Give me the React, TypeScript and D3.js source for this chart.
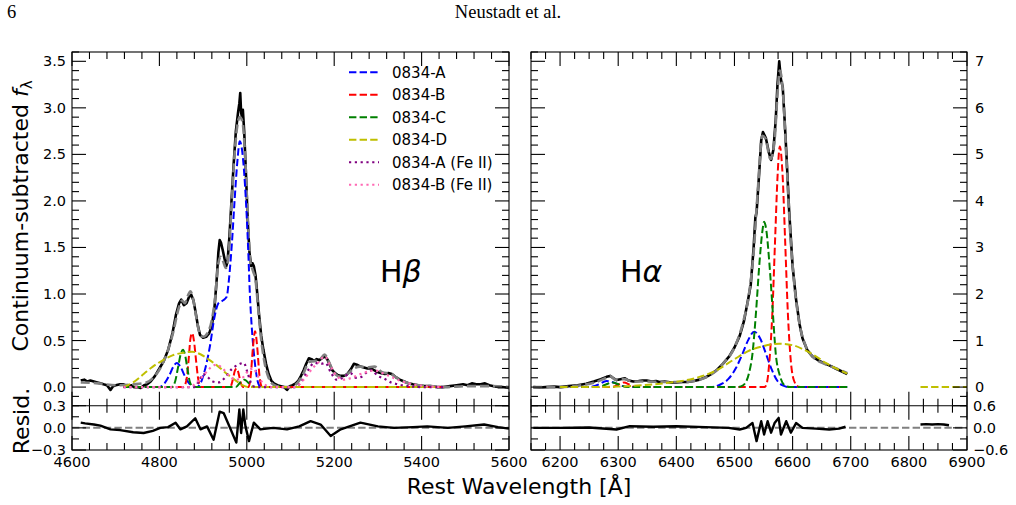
import React, { useEffect, useRef } from "react";
import * as d3 from "d3";

type Pt = [number, number];

// ---- H-beta panel (rest wavelength, continuum-subtracted flux) ----
const hbSpec: Pt[] = [
  [4620, 0.07], [4628, 0.08], [4635, 0.06], [4642, 0.07], [4650, 0.06], [4658, 0.05], [4665, 0.04],
  [4672, 0.03], [4680, 0.02], [4688, -0.03], [4694, 0.01], [4700, 0.02], [4710, 0.03], [4718, 0.03],
  [4726, 0.01], [4735, 0.02], [4742, 0.0], [4750, 0.0], [4757, -0.01], [4765, 0.02], [4772, 0.03],
  [4780, 0.06], [4790, 0.12], [4800, 0.2], [4810, 0.28], [4820, 0.4], [4830, 0.58], [4838, 0.78],
  [4845, 0.9], [4850, 0.94], [4856, 0.88], [4862, 0.9], [4868, 0.97], [4873, 0.99], [4878, 0.93],
  [4883, 0.8], [4888, 0.66], [4893, 0.56], [4900, 0.53], [4907, 0.54], [4914, 0.58], [4920, 0.66],
  [4926, 0.85], [4931, 1.15], [4935, 1.45], [4938, 1.58], [4941, 1.55], [4945, 1.47], [4949, 1.38],
  [4953, 1.3], [4956, 1.35], [4960, 1.6], [4965, 2.0], [4970, 2.4], [4975, 2.75], [4980, 2.95],
  [4983, 3.05], [4985, 3.16], [4987, 2.95], [4989, 2.9], [4991, 2.98], [4994, 2.75], [4998, 2.3],
  [5002, 1.8], [5006, 1.45], [5010, 1.3], [5013, 1.33], [5016, 1.3], [5020, 1.2], [5024, 1.0],
  [5028, 0.78], [5033, 0.55], [5038, 0.4], [5044, 0.25], [5050, 0.14], [5056, 0.07], [5062, 0.04],
  [5070, 0.02], [5078, 0.01], [5085, 0.0], [5092, -0.03], [5098, 0.01], [5105, 0.02], [5112, 0.04],
  [5118, 0.07], [5124, 0.12], [5130, 0.18], [5136, 0.25], [5142, 0.31], [5148, 0.3], [5154, 0.28],
  [5160, 0.3], [5166, 0.29], [5172, 0.31], [5178, 0.33], [5184, 0.3], [5190, 0.24], [5196, 0.18],
  [5202, 0.15], [5208, 0.13], [5215, 0.12], [5222, 0.12], [5230, 0.14], [5238, 0.19], [5245, 0.25],
  [5252, 0.24], [5260, 0.22], [5268, 0.21], [5276, 0.2], [5284, 0.2], [5292, 0.18], [5300, 0.16],
  [5308, 0.15], [5316, 0.14], [5324, 0.15], [5332, 0.14], [5340, 0.11], [5350, 0.08], [5360, 0.06],
  [5370, 0.04], [5380, 0.03], [5392, 0.02], [5405, 0.01], [5420, 0.01], [5435, 0.0], [5450, 0.0],
  [5465, 0.01], [5480, 0.02], [5495, 0.03], [5505, 0.02], [5515, 0.04], [5525, 0.03], [5535, 0.03],
  [5545, 0.04], [5555, 0.02], [5565, 0.01], [5575, 0.0], [5585, 0.0], [5600, -0.01],
];
const hbModel: Pt[] = [
  [4620, 0.05], [4660, 0.04], [4700, 0.02], [4740, 0.03], [4770, 0.05], [4790, 0.12], [4810, 0.28],
  [4830, 0.56], [4845, 0.86], [4852, 0.93], [4858, 0.9], [4865, 0.98], [4871, 1.03], [4877, 0.95],
  [4884, 0.76], [4892, 0.58], [4900, 0.54], [4910, 0.58], [4920, 0.72], [4928, 0.98], [4934, 1.3],
  [4940, 1.4], [4946, 1.35], [4952, 1.28], [4958, 1.4], [4965, 1.95], [4972, 2.5], [4978, 2.8],
  [4984, 2.9], [4990, 2.85], [4996, 2.5], [5002, 1.85], [5008, 1.35], [5014, 1.25], [5020, 1.15],
  [5026, 0.85], [5032, 0.55], [5040, 0.28], [5050, 0.1], [5060, 0.03], [5080, 0.0], [5100, 0.0],
  [5115, 0.04], [5130, 0.15], [5142, 0.27], [5155, 0.28], [5168, 0.3], [5178, 0.35], [5188, 0.27],
  [5200, 0.15], [5215, 0.11], [5230, 0.14], [5245, 0.2], [5260, 0.22], [5275, 0.21], [5292, 0.22],
  [5310, 0.16], [5330, 0.14], [5350, 0.08], [5380, 0.03], [5420, 0.01], [5460, 0.0], [5500, 0.01],
  [5560, 0.01], [5600, 0.0],
];
const hbA: Pt[] = [
  [4718, 0], [4800, 0], [4810, 0.03], [4822, 0.12], [4832, 0.22], [4840, 0.26], [4848, 0.22],
  [4858, 0.12], [4868, 0.04], [4878, 0.01], [4886, 0], [4895, 0.05], [4905, 0.2], [4916, 0.45],
  [4926, 0.75], [4935, 0.9], [4945, 0.93], [4954, 0.97], [4959, 1.15], [4966, 1.55], [4972, 2.0],
  [4978, 2.4], [4984, 2.64], [4989, 2.55], [4994, 2.3], [4998, 2.0], [5003, 1.5], [5007, 1.0],
  [5012, 0.6], [5018, 0.28], [5024, 0.08], [5030, 0.01], [5036, 0], [5450, 0],
];
const hbB: Pt[] = [
  [4718, 0], [4855, 0], [4862, 0.08], [4867, 0.3], [4871, 0.52], [4875, 0.58], [4879, 0.5],
  [4884, 0.28], [4889, 0.08], [4895, 0], [4962, 0], [4968, 0.08], [4973, 0.18], [4977, 0.2],
  [4981, 0.15], [4986, 0.05], [4992, 0], [5004, 0], [5009, 0.12], [5014, 0.42], [5019, 0.6],
  [5024, 0.42], [5029, 0.12], [5034, 0.01], [5040, 0], [5450, 0],
];
const hbC: Pt[] = [
  [4718, 0], [4828, 0], [4836, 0.06], [4843, 0.22], [4849, 0.36], [4854, 0.4], [4859, 0.34],
  [4864, 0.2], [4870, 0.05], [4878, 0], [4975, 0], [4985, 0.05], [4995, 0.08], [5005, 0.04],
  [5015, 0], [5450, 0],
];
const hbD: Pt[] = [
  [4718, 0], [4740, 0.05], [4764, 0.14], [4785, 0.22], [4805, 0.28], [4830, 0.34], [4855, 0.37],
  [4875, 0.38], [4895, 0.35], [4915, 0.29], [4935, 0.22], [4955, 0.14], [4975, 0.07], [4990, 0.02],
  [5005, 0], [5450, 0],
];
const hbFeA: Pt[] = [
  [4718, 0], [4880, 0], [4890, 0.06], [4900, 0.14], [4910, 0.11], [4922, 0.06], [4935, 0.05],
  [4950, 0.1], [4965, 0.19], [4980, 0.24], [4993, 0.26], [5002, 0.15], [5010, 0.04], [5020, 0],
  [5110, 0], [5125, 0.06], [5140, 0.18], [5155, 0.26], [5170, 0.25], [5180, 0.26], [5192, 0.16],
  [5205, 0.08], [5220, 0.1], [5237, 0.15], [5250, 0.1], [5262, 0.11], [5275, 0.16], [5285, 0.18],
  [5300, 0.12], [5315, 0.09], [5330, 0.05], [5345, 0.03], [5370, 0.01], [5400, 0], [5450, 0],
];
const hbFeB: Pt[] = [
  [4718, 0], [4870, 0], [4885, 0.05], [4900, 0.12], [4915, 0.2], [4930, 0.24], [4945, 0.2],
  [4960, 0.12], [4975, 0.08], [4990, 0.1], [5005, 0.18], [5015, 0.2], [5025, 0.12], [5040, 0.03],
  [5060, 0], [5110, 0], [5130, 0.08], [5150, 0.2], [5165, 0.27], [5178, 0.33], [5190, 0.24],
  [5205, 0.12], [5222, 0.08], [5240, 0.1], [5260, 0.14], [5280, 0.17], [5292, 0.18], [5310, 0.15],
  [5330, 0.11], [5350, 0.07], [5370, 0.04], [5400, 0.015], [5450, 0],
];
const hbResid: Pt[] = [
  [4620, 0.07], [4630, 0.06], [4650, 0.045], [4665, 0.03], [4688, -0.02], [4710, -0.03],
  [4740, -0.06], [4764, -0.07], [4785, -0.04], [4802, 0], [4820, 0.01], [4837, 0.07], [4848, -0.02],
  [4863, 0.02], [4882, 0.13], [4894, -0.02], [4909, 0.02], [4924, -0.16], [4938, 0.22], [4947, 0.2],
  [4963, -0.02], [4976, -0.2], [4983, 0.25], [4987, -0.07], [4992, 0.25], [4997, 0.02], [5005, -0.18],
  [5016, 0.07], [5031, -0.02], [5060, 0.0], [5092, -0.02], [5120, 0.02], [5146, 0.09], [5169, 0.045],
  [5192, -0.11], [5215, -0.02], [5240, 0.03], [5260, 0.07], [5300, 0.02], [5337, 0], [5380, 0.01],
  [5413, 0.02], [5460, 0.0], [5500, 0.02], [5543, 0.045], [5575, 0.01], [5600, -0.01],
];
const hbResidZero: Pt[] = [[4600, 0], [5600, 0]];

// ---- H-alpha panel ----
const haSpec: Pt[] = [
  [6154, 0.0], [6165, -0.01], [6175, 0.0], [6190, 0.01], [6200, 0.0], [6215, 0.02], [6230, 0.04],
  [6245, 0.07], [6258, 0.12], [6270, 0.17], [6280, 0.22], [6286, 0.24], [6292, 0.19], [6297, 0.15],
  [6304, 0.17], [6311, 0.19], [6318, 0.14], [6326, 0.12], [6335, 0.13], [6342, 0.14], [6349, 0.14],
  [6358, 0.12], [6365, 0.13], [6371, 0.11], [6380, 0.12], [6390, 0.1], [6400, 0.1], [6410, 0.11],
  [6420, 0.11], [6430, 0.13], [6440, 0.16], [6450, 0.21], [6460, 0.28], [6469, 0.36], [6480, 0.5],
  [6491, 0.66], [6500, 0.85], [6509, 1.1], [6516, 1.4], [6523, 1.85], [6528, 2.2], [6533, 3.0],
  [6536, 3.65], [6538, 3.75], [6542, 4.5], [6546, 5.3], [6549, 5.48], [6554, 5.35], [6559, 5.05],
  [6563, 4.88], [6567, 5.1], [6571, 5.75], [6574, 6.5], [6577, 7.0], [6580, 6.6], [6583, 6.45],
  [6586, 5.8], [6589, 5.1], [6594, 3.8], [6600, 2.6], [6606, 1.88], [6612, 1.35], [6617, 1.05],
  [6625, 0.8], [6634, 0.66], [6645, 0.57], [6657, 0.5], [6666, 0.45], [6674, 0.4], [6684, 0.34],
  [6694, 0.28],
];
const haModel: Pt[] = [
  [6154, 0.0], [6200, 0.0], [6230, 0.03], [6260, 0.1], [6280, 0.2], [6287, 0.23], [6295, 0.16],
  [6310, 0.17], [6325, 0.12], [6350, 0.12], [6380, 0.11], [6410, 0.11], [6440, 0.16], [6460, 0.27],
  [6480, 0.5], [6500, 0.85], [6515, 1.4], [6525, 2.0], [6533, 2.9], [6540, 4.2], [6548, 5.4],
  [6553, 5.35], [6562, 4.9], [6569, 5.3], [6574, 6.3], [6578, 6.8], [6583, 6.4], [6589, 5.0],
  [6596, 3.3], [6603, 2.2], [6612, 1.35], [6622, 0.9], [6635, 0.65], [6655, 0.5], [6675, 0.4],
  [6694, 0.3],
];
const haA: Pt[] = [
  [6200, 0], [6250, 0], [6265, 0.05], [6280, 0.13], [6292, 0.1], [6305, 0.03], [6320, 0], [6460, 0],
  [6475, 0.05], [6490, 0.18], [6503, 0.42], [6514, 0.72], [6524, 1.02], [6534, 1.19], [6544, 1.05],
  [6554, 0.72], [6564, 0.38], [6574, 0.13], [6584, 0.03], [6594, 0], [6694, 0],
];
const haB: Pt[] = [
  [6200, 0], [6290, 0], [6300, 0.05], [6310, 0.1], [6320, 0.05], [6330, 0], [6552, 0], [6556, 0.1],
  [6560, 0.54], [6565, 1.55], [6570, 3.2], [6574, 4.5], [6578, 5.17], [6583, 4.5], [6587, 3.2],
  [6592, 1.55], [6597, 0.55], [6603, 0.12], [6610, 0.01], [6617, 0], [6694, 0],
];
const haC: Pt[] = [
  [6200, 0], [6265, 0], [6278, 0.05], [6290, 0.1], [6302, 0.05], [6315, 0], [6505, 0], [6515, 0.04],
  [6525, 0.3], [6531, 0.72], [6537, 1.6], [6543, 2.67], [6548, 3.35], [6551, 3.55], [6555, 3.35],
  [6560, 2.67], [6566, 1.6], [6571, 0.72], [6578, 0.25], [6586, 0.04], [6595, 0], [6694, 0],
];
const haD: Pt[] = [
  [6200, 0], [6250, 0.0], [6300, 0.01], [6343, 0.04], [6390, 0.1], [6429, 0.18], [6469, 0.36],
  [6500, 0.6], [6525, 0.78], [6549, 0.88], [6577, 0.93], [6600, 0.9], [6620, 0.8], [6640, 0.66],
  [6657, 0.52], [6675, 0.4], [6694, 0.29],
];
const haDTail: Pt[] = [[6820, 0], [6900, 0]];
const haResid: Pt[] = [
  [6154, 0], [6200, 0.0], [6250, 0.01], [6297, -0.045], [6320, 0.045], [6360, 0.03], [6400, 0.045],
  [6450, 0.02], [6490, 0.0], [6509, -0.045], [6520, 0.0], [6531, 0.13], [6538, -0.36], [6546, 0.18],
  [6551, -0.18], [6557, 0.18], [6563, -0.13], [6569, 0.13], [6576, 0.27], [6580, -0.18], [6589, 0.18],
  [6597, -0.13], [6606, 0.13], [6617, 0], [6640, -0.02], [6663, -0.045], [6680, -0.02], [6691, 0.03],
];
const haResid2: Pt[] = [[6820, 0.09], [6830, 0.1], [6840, 0.09], [6850, 0.1], [6860, 0.09], [6869, 0.07]];
const haResidZero: Pt[] = [[6150, 0], [6900, 0]];

// ---- legend and ticks ----
const legendLabels = ["0834-A", "0834-B", "0834-C", "0834-D", "0834-A (Fe II)", "0834-B (Fe II)"];
const legendColors = ["#0000ff", "#ff0000", "#008000", "#bfbf00", "#800080", "#ff69b4"];
const legendDotted = [false, false, false, false, true, true];

const hbXTicks = [4600, 4800, 5000, 5200, 5400, 5600];
const haXTicks = [6200, 6300, 6400, 6500, 6600, 6700, 6800, 6900];
const hbYTicks = [0, 0.5, 1, 1.5, 2, 2.5, 3, 3.5];
const haYTicks = [0, 1, 2, 3, 4, 5, 6, 7];
const hbResTicks = [-0.3, 0, 0.3];
const haResTicks = [-0.6, 0, 0.6];

const FONT = "DejaVu Sans, sans-serif";

export default function App() {
  const ref = useRef<SVGSVGElement>(null);

  useEffect(() => {
    const svg = d3.select(ref.current);
    svg.selectAll("*").remove();

    const L = { x0: 72, x1: 509 };
    const R = { x0: 531, x1: 967 };
    const top = 52, mid = 405.7, bot = 450;
    const MAJ = 14, MIN = 7;

    const xHb = d3.scaleLinear().domain([4600, 5600]).range([L.x0, L.x1]);
    const xHa = d3.scaleLinear().domain([6150, 6900]).range([R.x0, R.x1]);
    const yHb = d3.scaleLinear().domain([-0.2, 3.6]).range([mid, top]);
    const yHa = d3.scaleLinear().domain([-0.4, 7.2]).range([mid, top]);
    const rHb = d3.scaleLinear().domain([-0.3, 0.3]).range([bot, mid]);
    const rHa = d3.scaleLinear().domain([-0.6, 0.6]).range([bot, mid]);

    // header
    svg.append("text").attr("x", 7).attr("y", 17.5).attr("font-family", "Liberation Serif, serif")
      .attr("font-size", 18.5).text("6");
    svg.append("text").attr("x", 508).attr("y", 17.5).attr("text-anchor", "middle")
      .attr("font-family", "Liberation Serif, serif").attr("font-size", 18.5).text("Neustadt et al.");

    const defs = svg.append("defs");
    const clip = (id: string, x0: number, x1: number, y0: number, y1: number) => {
      defs.append("clipPath").attr("id", id).append("rect")
        .attr("x", x0).attr("y", y0).attr("width", x1 - x0).attr("height", y1 - y0);
      return `url(#${id})`;
    };

    const lineFn = (x: d3.ScaleLinear<number, number>, y: d3.ScaleLinear<number, number>, smooth: boolean) =>
      d3.line<Pt>().x(d => x(d[0])).y(d => y(d[1])).curve(smooth ? d3.curveMonotoneX : d3.curveLinear);

    const drawLine = (g: any, data: Pt[], x: any, y: any, color: string, width: number, dash: string | null, smooth: boolean) => {
      const p = g.append("path").datum(data).attr("d", lineFn(x, y, smooth)).attr("fill", "none")
        .attr("stroke", color).attr("stroke-width", width).attr("stroke-linejoin", "round");
      if (dash) p.attr("stroke-dasharray", dash);
      return p;
    };

    const dashed = "7.4,3.2";
    const dotted = "2.2,3.6";

    // ---- top panels ----
    const drawTop = (x: any, y: any, x0: number, x1: number, clipId: string,
      spec: Pt[], model: Pt[], comps: Pt[][], fe: Pt[][]) => {
      const g = svg.append("g").attr("clip-path", clip(clipId, x0, x1, top, mid));
      drawLine(g, spec, x, y, "#000", 2.6, null, false);
      drawLine(g, model, x, y, "#808080", 2.6, "9,4", true);
      comps.forEach((c, i) => drawLine(g, c, x, y, legendColors[i], 2, dashed, true));
      fe.forEach((c, i) => drawLine(g, c, x, y, legendColors[4 + i], 2.2, dotted, true));
      return g;
    };
    drawTop(xHb, yHb, L.x0, L.x1, "clipHb", hbSpec, hbModel, [hbA, hbB, hbC, hbD], [hbFeA, hbFeB]);
    const gHa = drawTop(xHa, yHa, R.x0, R.x1, "clipHa", haSpec, haModel, [haA, haB, haC, haD], []);
    drawLine(gHa, haDTail, xHa, yHa, legendColors[3], 2, dashed, false);

    // ---- residual panels ----
    const gRb = svg.append("g").attr("clip-path", clip("clipRb", L.x0, L.x1, mid, bot));
    drawLine(gRb, hbResidZero, xHb, rHb, "#808080", 2, "7.4,3.2", false);
    drawLine(gRb, hbResid, xHb, rHb, "#000", 2.4, null, false);
    const gRa = svg.append("g").attr("clip-path", clip("clipRa", R.x0, R.x1, mid, bot));
    drawLine(gRa, haResidZero, xHa, rHa, "#808080", 2, "7.4,3.2", false);
    drawLine(gRa, haResid, xHa, rHa, "#000", 2.4, null, false);
    drawLine(gRa, haResid2, xHa, rHa, "#000", 2.4, null, false);

    // ---- ticks ----
    const axes = svg.append("g").attr("stroke", "#000").attr("stroke-width", 1.1);
    const xTicks = (x: any, vals: number[], yPos: number, len: number) =>
      vals.forEach(v => axes.append("line").attr("x1", x(v)).attr("x2", x(v)).attr("y1", yPos).attr("y2", yPos + len));
    const yTicks = (y: any, vals: number[], xPos: number, len: number) =>
      vals.forEach(v => axes.append("line").attr("y1", y(v)).attr("y2", y(v)).attr("x1", xPos).attr("x2", xPos + len));

    const hbMinorX = d3.range(4600, 5601, 40).filter(v => (v - 4600) % 200 !== 0);
    const haMinorX = d3.range(6150, 6901, 25).filter(v => v % 100 !== 0);
    const hbMinorY = d3.range(-2, 37).map(v => v / 10).filter(v => Math.abs(v * 2 - Math.round(v * 2)) > 1e-6);
    const haMinorY = d3.range(-2, 37).map(v => v / 5).filter(v => Math.abs(v - Math.round(v)) > 1e-6);

    [[top, 1], [mid, -1], [mid, 1], [bot, -1]].forEach(([yPos, s]) => {
      xTicks(xHb, hbXTicks, yPos, s * MAJ);
      xTicks(xHb, hbMinorX, yPos, s * MIN);
      xTicks(xHa, haXTicks, yPos, s * MAJ);
      xTicks(xHa, haMinorX, yPos, s * MIN);
    });
    [[L.x0, 1], [L.x1, -1]].forEach(([xPos, s]) => {
      yTicks(yHb, hbYTicks, xPos, s * MAJ);
      yTicks(yHb, hbMinorY, xPos, s * MIN);
      yTicks(rHb, hbResTicks, xPos, s * MAJ);
      yTicks(rHb, [-0.15, 0.15], xPos, s * MIN);
    });
    [[R.x0, 1], [R.x1, -1]].forEach(([xPos, s]) => {
      yTicks(yHa, haYTicks, xPos, s * MAJ);
      yTicks(yHa, haMinorY, xPos, s * MIN);
      yTicks(rHa, haResTicks, xPos, s * MAJ);
      yTicks(rHa, [-0.3, 0.3], xPos, s * MIN);
    });

    // frames
    [[L.x0, L.x1], [R.x0, R.x1]].forEach(([a, b]) => {
      axes.append("rect").attr("x", a).attr("y", top).attr("width", b - a).attr("height", bot - top).attr("fill", "none");
      axes.append("line").attr("x1", a).attr("x2", b).attr("y1", mid).attr("y2", mid);
    });

    // ---- tick labels ----
    const lab = svg.append("g").attr("font-family", FONT).attr("font-size", 14.5).attr("fill", "#000");
    const f1 = d3.format(".1f");
    hbXTicks.forEach(v => lab.append("text").attr("x", xHb(v)).attr("y", 467).attr("text-anchor", "middle").text(String(v)));
    haXTicks.forEach(v => lab.append("text").attr("x", xHa(v)).attr("y", 467).attr("text-anchor", "middle").text(String(v)));
    hbYTicks.forEach(v => lab.append("text").attr("x", 66).attr("y", yHb(v) + 5).attr("text-anchor", "end").text(f1(v)));
    hbResTicks.forEach(v => lab.append("text").attr("x", 66).attr("y", rHb(v) + 5).attr("text-anchor", "end").text(f1(v)));
    haYTicks.forEach(v => lab.append("text").attr("x", 975).attr("y", yHa(v) + 5).text(String(v)));
    haResTicks.forEach(v => lab.append("text").attr("x", 973).attr("y", rHa(v) + 5).text(f1(v)));

    // ---- axis titles ----
    const yl = svg.append("text").attr("font-family", FONT).attr("font-size", 22).attr("text-anchor", "middle")
      .attr("transform", "translate(28,216) rotate(-90)");
    yl.append("tspan").text("Continuum-subtracted ");
    yl.append("tspan").attr("font-style", "italic").text("f");
    yl.append("tspan").attr("font-size", 15).attr("dy", 4).text("λ");
    svg.append("text").attr("font-family", FONT).attr("font-size", 22).attr("text-anchor", "middle")
      .attr("transform", "translate(29,421) rotate(-90)").text("Resid.");
    svg.append("text").attr("font-family", FONT).attr("font-size", 22).attr("text-anchor", "middle")
      .attr("x", 519).attr("y", 493.5).text("Rest Wavelength [Å]");

    // ---- line labels ----
    const hb = svg.append("text").attr("font-family", FONT).attr("font-size", 30).attr("x", 380).attr("y", 282);
    hb.append("tspan").text("H");
    hb.append("tspan").attr("font-style", "italic").text("β");
    const ha = svg.append("text").attr("font-family", FONT).attr("font-size", 30).attr("x", 620).attr("y", 282);
    ha.append("tspan").text("H");
    ha.append("tspan").attr("font-style", "italic").text("α");

    // ---- legend ----
    const lg = svg.append("g");
    legendLabels.forEach((name, i) => {
      const yy = 72.3 + i * 22.5;
      lg.append("line").attr("x1", 349).attr("x2", 379).attr("y1", yy).attr("y2", yy)
        .attr("stroke", legendColors[i]).attr("stroke-width", 2)
        .attr("stroke-dasharray", legendDotted[i] ? dotted : dashed);
      lg.append("text").attr("x", 392).attr("y", yy + 5.5).attr("font-family", FONT).attr("font-size", 15).text(name);
    });
  }, []);

  return (
    <svg ref={ref} width={1016} height={505}
      style={{ position: "absolute", left: 0, top: 0, background: "#fff" }} />
  );
}
